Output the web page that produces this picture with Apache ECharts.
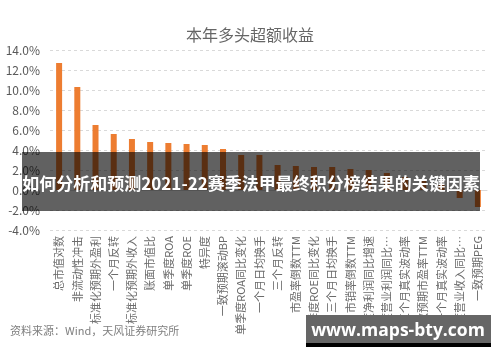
<!DOCTYPE html>
<html>
<head>
<meta charset="utf-8">
<script src="https://cdn.jsdelivr.net/npm/echarts@6/dist/echarts.min.js"></script>
<style>html,body{margin:0;padding:0;background:#fff;}#c{width:500px;height:362px;}</style>
</head>
<body>
<div id="c"></div>
<script>
const categories = ["总市值对数","非流动性冲击","标准化预期外盈利","一个月反转","标准化预期外收入","账面市值比","单季度ROA","单季度ROE","特异度","一致预期滚动BP","单季度ROA同比变化","一个月日均换手","三个月反转","市盈率倒数TTM","单季度ROE同比变化","三个月日均换手","市销率倒数TTM","单季度净利润同比增速","单季度营业利润同比…","三个月真实波动率","一致预期市盈率TTM","一个月真实波动率","单季度营业收入同比…","一致预期PEG"];
const values = [12.7,10.3,6.5,5.6,5.1,4.8,4.7,4.6,4.5,4.1,3.5,3.5,2.5,2.4,2.3,2.3,2.1,2.0,1.7,1.3,0.9,0.5,-0.8,-1.7];
const yTicks = {min:-4, max:14, interval:2};
const titleText = "本年多头超额收益";
const sourceText = "资料来源：Wind，天风证券研究所";
const bannerText = "如何分析和预测2021-22赛季法甲最终积分榜结果的关键因素";
const watermarkText = "www.maps-bty.com";

const chart = echarts.init(document.getElementById('c'), null, {renderer:'canvas'});
const font = '"Noto Sans CJK SC","Noto Sans",sans-serif';
chart.setOption({
  animation:false,
  title:{text:titleText,left:'center',top:22,itemGap:0,
    textStyle:{fontSize:16,fontWeight:'normal',color:'#666666',fontFamily:font}},
  grid:{left:50,right:13,top:50,bottom:132,containLabel:false},
  xAxis:{type:'category',data:categories,
    axisLine:{show:true,onZero:true,lineStyle:{color:'#d9d9d9'}},
    axisTick:{show:false},
    axisLabel:{rotate:90,interval:0,fontSize:11,color:'#6b6b6b',fontFamily:font,margin:6}},
  yAxis:{type:'value',min:yTicks.min,max:yTicks.max,interval:yTicks.interval,
    axisLine:{show:false},axisTick:{show:false},
    axisLabel:{formatter:v=>v.toFixed(1)+'%',fontSize:12,color:'#595959',fontFamily:font,margin:10},
    splitLine:{lineStyle:{color:'#d9d9d9',type:[3,3]}}},
  series:[{type:'bar',data:values,barWidth:6,itemStyle:{color:'#ED7D31'}}],
  graphic:[
    {type:'text',left:10,top:325,style:{text:sourceText,fontSize:11,fill:'#7f7f7f',fontFamily:font}},
    {type:'rect',shape:{x:22,y:152,width:458,height:59},style:{fill:'rgba(0,0,0,0.62)'},z:100},
    {type:'text',x:251,y:184,style:{text:bannerText,fontSize:17,fontWeight:'bold',fill:'#fff',fontFamily:font,align:'center',verticalAlign:'middle'},z:101},
    {type:'rect',shape:{x:306,y:315,width:185,height:28},style:{fill:'#666666'},z:100},
    {type:'rect',shape:{x:306,y:343,width:185,height:4},style:{fill:'#000000'},z:100},
    {type:'text',x:398,y:331,style:{text:watermarkText,fontSize:17.5,fontWeight:'bold',fill:'#fff',fontFamily:'"Open Sans","DejaVu Sans",sans-serif',align:'center',verticalAlign:'middle'},z:101}
  ]
});
</script>
</body>
</html>
